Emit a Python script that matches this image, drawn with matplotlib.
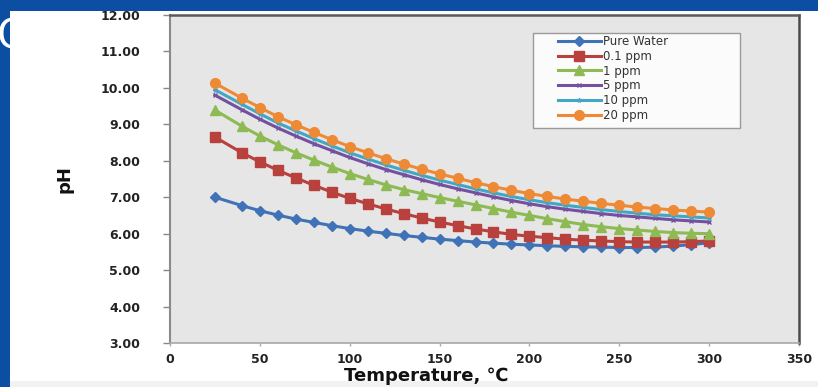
# Load the required packages
import matplotlib
matplotlib.use("Agg")
import matplotlib.pyplot as plt
from matplotlib.patches import Rectangle

# Temperature (deg C) and pH for each solution
temperature = [25, 40, 50, 60, 70, 80, 90, 100, 110, 120, 130, 140, 150, 160,
               170, 180, 190, 200, 210, 220, 230, 240, 250, 260, 270, 280, 290, 300]
ph_pure = [7.00, 6.77, 6.63, 6.51, 6.40, 6.31, 6.22, 6.14, 6.07, 6.01, 5.95, 5.90, 5.85, 5.81,
           5.77, 5.74, 5.71, 5.69, 5.67, 5.65, 5.64, 5.63, 5.62, 5.62, 5.63, 5.66, 5.70, 5.75]
ph_01 = [8.65, 8.22, 7.97, 7.74, 7.53, 7.33, 7.14, 6.97, 6.82, 6.68, 6.55, 6.43, 6.32, 6.22,
         6.13, 6.05, 5.98, 5.93, 5.89, 5.85, 5.82, 5.80, 5.78, 5.77, 5.77, 5.77, 5.78, 5.80]
ph_1 = [9.39, 8.95, 8.68, 8.44, 8.22, 8.02, 7.83, 7.65, 7.49, 7.34, 7.21, 7.10, 6.99, 6.89,
        6.79, 6.69, 6.59, 6.50, 6.41, 6.33, 6.25, 6.19, 6.14, 6.10, 6.06, 6.03, 6.01, 6.00]
ph_5 = [9.80, 9.40, 9.14, 8.90, 8.68, 8.47, 8.28, 8.09, 7.92, 7.76, 7.62, 7.48, 7.35, 7.23,
        7.12, 7.01, 6.91, 6.82, 6.74, 6.67, 6.61, 6.55, 6.50, 6.46, 6.42, 6.38, 6.35, 6.32]
ph_10 = [9.95, 9.55, 9.29, 9.04, 8.82, 8.61, 8.41, 8.22, 8.05, 7.89, 7.74, 7.60, 7.47, 7.35,
         7.23, 7.12, 7.02, 6.93, 6.85, 6.78, 6.72, 6.66, 6.61, 6.56, 6.52, 6.49, 6.46, 6.43]
ph_20 = [10.13, 9.72, 9.46, 9.21, 8.99, 8.78, 8.58, 8.39, 8.22, 8.06, 7.91, 7.77, 7.64, 7.52,
         7.40, 7.29, 7.19, 7.10, 7.02, 6.95, 6.89, 6.83, 6.78, 6.73, 6.69, 6.65, 6.62, 6.59]

labels = ['Pure Water', '0.1 ppm', '1 ppm', '5 ppm', '10 ppm', '20 ppm']
x_ticks = [0, 50, 100, 150, 200, 250, 300, 350]
y_ticks = [3, 4, 5, 6, 7, 8, 9, 10, 11, 12]


def main():
    fig = plt.figure(figsize=(8.18, 3.87), dpi=100)
    fig.patch.set_facecolor('#0b4ea2')

    # slide title letter peeking out behind the white panel
    fig.text(-0.004, 0.955, 'C', color='white', fontsize=29, ha='left', va='top', zorder=-3)

    # white panel and pale strip at the bottom
    fig.patches.append(Rectangle((10 / 818, 6 / 387), 1, 1 - 17 / 387, transform=fig.transFigure,
                                 facecolor='white', edgecolor='none', zorder=-2))
    fig.patches.append(Rectangle((10 / 818, 0), 1, 6 / 387, transform=fig.transFigure,
                                 facecolor='#f1f2f4', edgecolor='none', zorder=-2))

    ax = fig.add_axes([170 / 818, 1 - 343 / 387, 629 / 818, 328 / 387])
    ax.set_facecolor('#e6e6e6')

    # the six series
    styles = [
        (ph_pure, '#3f72b6', 'D', 5),
        (ph_01, '#b8403d', 's', 6.5),
        (ph_1, '#8dba52', '^', 6.5),
        (ph_5, '#7550a0', 'x', 3),
        (ph_10, '#42a7c3', '*', 3),
        (ph_20, '#ee8a35', 'o', 7),
    ]
    for (vals, col, mk, ms), lab in zip(styles, labels):
        ax.plot(temperature, vals, color=col, lw=2.2, marker=mk, markersize=ms,
                markeredgecolor=col, markerfacecolor=col, label=lab, zorder=3)

    ax.set_xlim(0, 350)
    ax.set_ylim(3, 12)
    ax.set_xticks(x_ticks)
    ax.set_yticks(y_ticks)
    ax.set_yticklabels(['%.2f' % v for v in y_ticks])

    ax.tick_params(axis='y', direction='out', length=5, width=1, color='#888888', pad=16.5,
                   labelsize=9, labelcolor='#222222')
    ax.tick_params(axis='x', direction='out', length=2, width=1, color='#aaaaaa', pad=5,
                   labelsize=9, labelcolor='#222222')
    for t in ax.get_xticklabels() + ax.get_yticklabels():
        t.set_fontweight('bold')

    ax.spines['left'].set_color('#8a8a8a')
    ax.spines['left'].set_linewidth(1.5)
    ax.spines['bottom'].set_color('#a8a8a8')
    ax.spines['bottom'].set_linewidth(1.2)
    ax.spines['top'].set_color('#5a5a5a')
    ax.spines['top'].set_linewidth(1.8)
    ax.spines['right'].set_color('#4a4a4a')
    ax.spines['right'].set_linewidth(1.8)

    ax.set_xlabel('Temperature, ℃', fontsize=13, fontweight='bold', color='#111111')
    ax.xaxis.set_label_coords(0.407, -0.073)
    ax.set_ylabel('pH', fontsize=13, fontweight='bold', color='#111111')
    ax.yaxis.set_label_coords(-0.154, 0.5)

    # legend box
    ax.add_patch(Rectangle((0.577, 0.655), 0.329, 0.29, transform=ax.transAxes,
                           facecolor='#fbfbfb', edgecolor='#9a9a9a', lw=1, zorder=4))
    leg = ax.legend(loc='upper left', bbox_to_anchor=(0.617, 0.939), frameon=False,
                    fontsize=8.5, labelspacing=0.15, handlelength=3.6, handletextpad=0.2,
                    borderpad=0, borderaxespad=0)
    leg.set_zorder(5)
    for t in leg.get_texts():
        t.set_color('#333333')

    fig.savefig('out.png', dpi=100, facecolor=fig.get_facecolor())


if __name__ == "__main__":
    main()
